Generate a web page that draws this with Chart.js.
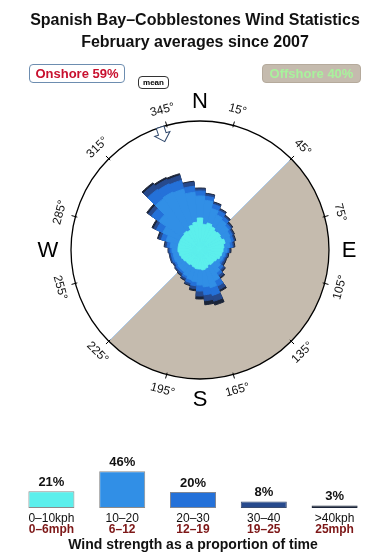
<!DOCTYPE html>
<html>
<head>
<meta charset="utf-8">
<title>Spanish Bay–Cobblestones Wind Statistics</title>
<script src="https://cdn.jsdelivr.net/npm/chart.js@4.4.1/dist/chart.umd.min.js"></script>
<style>
  html, body { margin: 0; padding: 0; background: #fff; }
  #page { position: relative; width: 390px; height: 560px; overflow: hidden;
          font-family: 'Liberation Sans', Arial, Helvetica, sans-serif; }
  #rose { position: absolute; left: 0; top: 0; }
  #bars { position: absolute; left: 0; top: 420px; }
  .title { position: absolute; left: 0; top: 9px; width: 390px; text-align: center;
           font-weight: bold; font-size: 16px; line-height: 22px; color: #111; }
  .tag { position: absolute; box-sizing: border-box; height: 19px; line-height: 17px;
         text-align: center; font-weight: bold; font-size: 13px; border-radius: 4px; }
  .onshore { left: 29px; top: 64px; width: 96px; border: 1px solid #6d8db0; color: #c8102e; background: #fff; }
  .offshore { left: 262px; top: 64px; width: 99px; border: 1px solid #b5aa9c; color: #a8f29c; background: #c5bbae; }
  .mean { position: absolute; left: 138px; top: 76px; width: 31px; height: 13px; box-sizing: border-box;
          border: 1px solid #333; border-radius: 4px; font-size: 8px; line-height: 11px;
          font-weight: bold; text-align: center; background: #fff; }
</style>
</head>
<body>
<div id="page">
  <canvas id="rose" width="390" height="420"></canvas>
  <canvas id="bars" width="390" height="140"></canvas>
  <div class="title">Spanish Bay–Cobblestones Wind Statistics<br>February averages since 2007</div>
  <div class="tag onshore">Onshore 59%</div>
  <div class="tag offshore">Offshore 40%</div>
  <div class="mean">mean</div>
</div>
<script>
// --- data ---
// wind direction bins (degrees, centre of each 10° sector)
const directions = [0, 10, 20, 30, 40, 50, 60, 70, 80, 90, 100, 110, 120, 130, 140, 150, 160, 170,
                    180, 190, 200, 210, 220, 230, 240, 250, 260, 270, 280, 290, 300, 310, 320, 330, 340, 350];

// cumulative reach of each speed class per direction (rose units)
const upTo10kph = [3.2, 2.6, 2.8, 2.6, 2.4, 2.5, 2.4, 2.6, 2.4, 2.3, 2.2, 2.1, 1.9, 1.8, 1.8, 1.7, 1.9, 2.0,
                   1.9, 1.9, 1.8, 1.7, 1.8, 1.8, 1.9, 2.0, 2.1, 2.2, 2.2, 2.2, 2.2, 2.2, 2.3, 2.2, 2.6, 2.8];
const upTo20kph = [5.4, 5.0, 4.3, 3.9, 3.7, 3.5, 3.3, 3.2, 3.0, 2.7, 2.5, 2.4, 2.3, 2.5, 2.8, 3.4, 3.9, 3.7,
                   3.5, 3.2, 3.1, 2.9, 2.7, 2.7, 2.6, 2.7, 2.7, 2.8, 3.0, 3.5, 4.1, 5.0, 6.3, 6.4, 6.3, 5.8];
const upTo30kph = [5.9, 5.4, 4.75, 4.35, 4.05, 3.75, 3.55, 3.45, 3.25, 2.85, 2.65, 2.55, 2.5, 2.8, 3.1, 4.0, 4.7, 4.5,
                   4.1, 3.6, 3.4, 3.1, 2.9, 2.9, 2.8, 2.9, 2.9, 3.0, 3.3, 4.0, 4.8, 5.9, 7.4, 7.3, 7.2, 6.4];
const upTo40kph = [6.1, 5.6, 4.9, 4.5, 4.2, 3.9, 3.7, 3.6, 3.4, 3.0, 2.8, 2.7, 2.7, 3.0, 3.35, 4.4, 5.3, 5.1,
                   4.6, 3.9, 3.6, 3.3, 3.1, 3.05, 2.95, 3.05, 3.05, 3.15, 3.5, 4.25, 5.1, 6.3, 8.0, 7.8, 7.7, 6.8];
const allSpeeds = [6.2, 5.7, 5.0, 4.6, 4.3, 4.0, 3.8, 3.7, 3.5, 3.1, 2.9, 2.8, 2.8, 3.1, 3.5, 4.6, 5.7, 5.5,
                   4.9, 4.1, 3.7, 3.4, 3.2, 3.1, 3.0, 3.1, 3.1, 3.2, 3.6, 4.4, 5.3, 6.5, 8.2, 8.0, 7.9, 6.9];
const roseMax = 12.9;

// compass ring
const degreeTicks = [15, 45, 75, 105, 135, 165, 195, 225, 255, 285, 315, 345];
const compassLetters = ['N', 'E', 'S', 'W'];
const compassAngles = [0, 90, 180, 270];
const offshoreFrom = 45;
const offshoreTo = 225;
const meanDirection = 342;

// wind strength summary
const speedKph = ['0–10kph', '10–20', '20–30', '30–40', '>40kph'];
const speedMph = ['0–6mph', '6–12', '12–19', '19–25', '25mph'];
const speedShare = [21, 46, 20, 8, 3];

const speedColors = ['#5cefec', '#318fe6', '#2471d9', '#274a8d', '#1b2438'];
const barEdges = ['#8c8c8c', '#8c8c8c', '#7f8796', '#3a4c70', '#1b2438'];
const FONT = "'Liberation Sans', Arial, Helvetica, sans-serif";

const rad = (deg) => (deg - 90) * Math.PI / 180;

// --- compass decoration around the rose ---
const compassFrame = {
    id: 'compassFrame',
    beforeDatasetsDraw(chart) {
        const s = chart.scales.r;
        const ctx = chart.ctx;
        const cx = s.xCenter, cy = s.yCenter, R = s.drawingArea;
        ctx.save();
        // offshore half
        ctx.beginPath();
        ctx.moveTo(cx, cy);
        ctx.arc(cx, cy, R, rad(offshoreFrom), rad(offshoreTo));
        ctx.closePath();
        ctx.fillStyle = '#c5bbae';
        ctx.fill();
        ctx.beginPath();
        ctx.moveTo(cx + R * Math.cos(rad(offshoreFrom)), cy + R * Math.sin(rad(offshoreFrom)));
        ctx.lineTo(cx + R * Math.cos(rad(offshoreTo)), cy + R * Math.sin(rad(offshoreTo)));
        ctx.strokeStyle = '#a9c9ea';
        ctx.lineWidth = 1;
        ctx.stroke();
        ctx.restore();
    },
    afterDatasetsDraw(chart) {
        const s = chart.scales.r;
        const ctx = chart.ctx;
        const cx = s.xCenter, cy = s.yCenter, R = s.drawingArea;
        ctx.save();
        // outer ring
        ctx.beginPath();
        ctx.arc(cx, cy, R, 0, Math.PI * 2);
        ctx.strokeStyle = '#000';
        ctx.lineWidth = 1.3;
        ctx.stroke();

        // degree ticks and labels
        ctx.font = '12px ' + FONT;
        ctx.fillStyle = '#111';
        ctx.textAlign = 'center';
        ctx.textBaseline = 'middle';
        degreeTicks.forEach((d) => {
            const a = rad(d);
            ctx.beginPath();
            ctx.moveTo(cx + (R - 2) * Math.cos(a), cy + (R - 2) * Math.sin(a));
            ctx.lineTo(cx + (R + 4) * Math.cos(a), cy + (R + 4) * Math.sin(a));
            ctx.lineWidth = 1;
            ctx.stroke();
            const rot = (d > 90 && d < 270) ? d - 180 : d;
            ctx.save();
            ctx.translate(cx + (R + 16) * Math.cos(a), cy + (R + 16) * Math.sin(a));
            ctx.rotate(rot * Math.PI / 180);
            ctx.fillText(d + '°', 0, 0);
            ctx.restore();
        });

        // N E S W
        ctx.font = '22px ' + FONT;
        ctx.fillStyle = '#000';
        compassLetters.forEach((l, i) => {
            const a = rad(compassAngles[i]);
            const off = (l === 'W') ? 152 : 149;
            ctx.fillText(l, cx + off * Math.cos(a), cy + off * Math.sin(a) + 1);
        });

        // mean direction marker
        ctx.translate(cx + (R - 7) * Math.cos(rad(meanDirection)), cy + (R - 7) * Math.sin(rad(meanDirection)));
        ctx.rotate(meanDirection * Math.PI / 180);
        ctx.beginPath();
        ctx.moveTo(-4, -7);
        ctx.lineTo(4, -7);
        ctx.lineTo(4, 0);
        ctx.lineTo(8, 0);
        ctx.lineTo(0, 8);
        ctx.lineTo(-8, 0);
        ctx.lineTo(-4, 0);
        ctx.closePath();
        ctx.fillStyle = '#fff';
        ctx.fill();
        ctx.strokeStyle = '#2b4468';
        ctx.lineWidth = 1;
        ctx.stroke();
        ctx.restore();
    }
};

// --- labels for the strength bars ---
const barLabels = {
    id: 'barLabels',
    afterDatasetsDraw(chart) {
        const ctx = chart.ctx;
        const bars = chart.getDatasetMeta(0).data;
        ctx.save();
        ctx.textAlign = 'center';
        ctx.textBaseline = 'middle';
        bars.forEach((bar, i) => {
            ctx.fillStyle = '#111';
            ctx.font = 'bold 13px ' + FONT;
            ctx.fillText(speedShare[i] + '%', bar.x, bar.y - 9);
            ctx.font = '12px ' + FONT;
            ctx.fillText(speedKph[i], bar.x, 99);
            ctx.fillStyle = '#7d1717';
            ctx.font = 'bold 12px ' + FONT;
            ctx.fillText(speedMph[i], bar.x, 110);
        });
        ctx.fillStyle = '#111';
        ctx.font = 'bold 14px ' + FONT;
        ctx.fillText('Wind strength as a proportion of time', 193, 125);
        ctx.restore();
    }
};

const roseLayer = (values, i) => ({
    data: values,
    backgroundColor: speedColors[i],
    borderColor: speedColors[i],
    borderWidth: 1
});

new Chart(document.getElementById('rose'), {
    type: 'polarArea',
    data: {
        labels: directions,
        datasets: [upTo10kph, upTo20kph, upTo30kph, upTo40kph, allSpeeds].map(roseLayer)
    },
    options: {
        responsive: false,
        animation: false,
        devicePixelRatio: 1,
        events: [],
        layout: { padding: { left: 71, right: 61, top: 121, bottom: 41 } },
        scales: {
            r: {
                min: 0,
                max: roseMax,
                startAngle: -5,
                grid: { display: false },
                angleLines: { display: false },
                ticks: { display: false },
                pointLabels: { display: false }
            }
        },
        plugins: { legend: { display: false }, tooltip: { enabled: false } }
    },
    plugins: [compassFrame]
});

new Chart(document.getElementById('bars'), {
    type: 'bar',
    data: {
        labels: speedKph,
        datasets: [{
            data: speedShare,
            backgroundColor: speedColors,
            borderColor: barEdges,
            borderWidth: 1,
            borderSkipped: false,
            barPercentage: 0.65,
            categoryPercentage: 1
        }]
    },
    options: {
        responsive: false,
        animation: false,
        devicePixelRatio: 1,
        events: [],
        layout: { padding: { left: 16, right: 20, top: 40, bottom: 52 } },
        scales: {
            x: { display: false },
            y: { display: false, min: 0, max: 60 }
        },
        plugins: { legend: { display: false }, tooltip: { enabled: false } }
    },
    plugins: [barLabels]
});
</script>
</body>
</html>
